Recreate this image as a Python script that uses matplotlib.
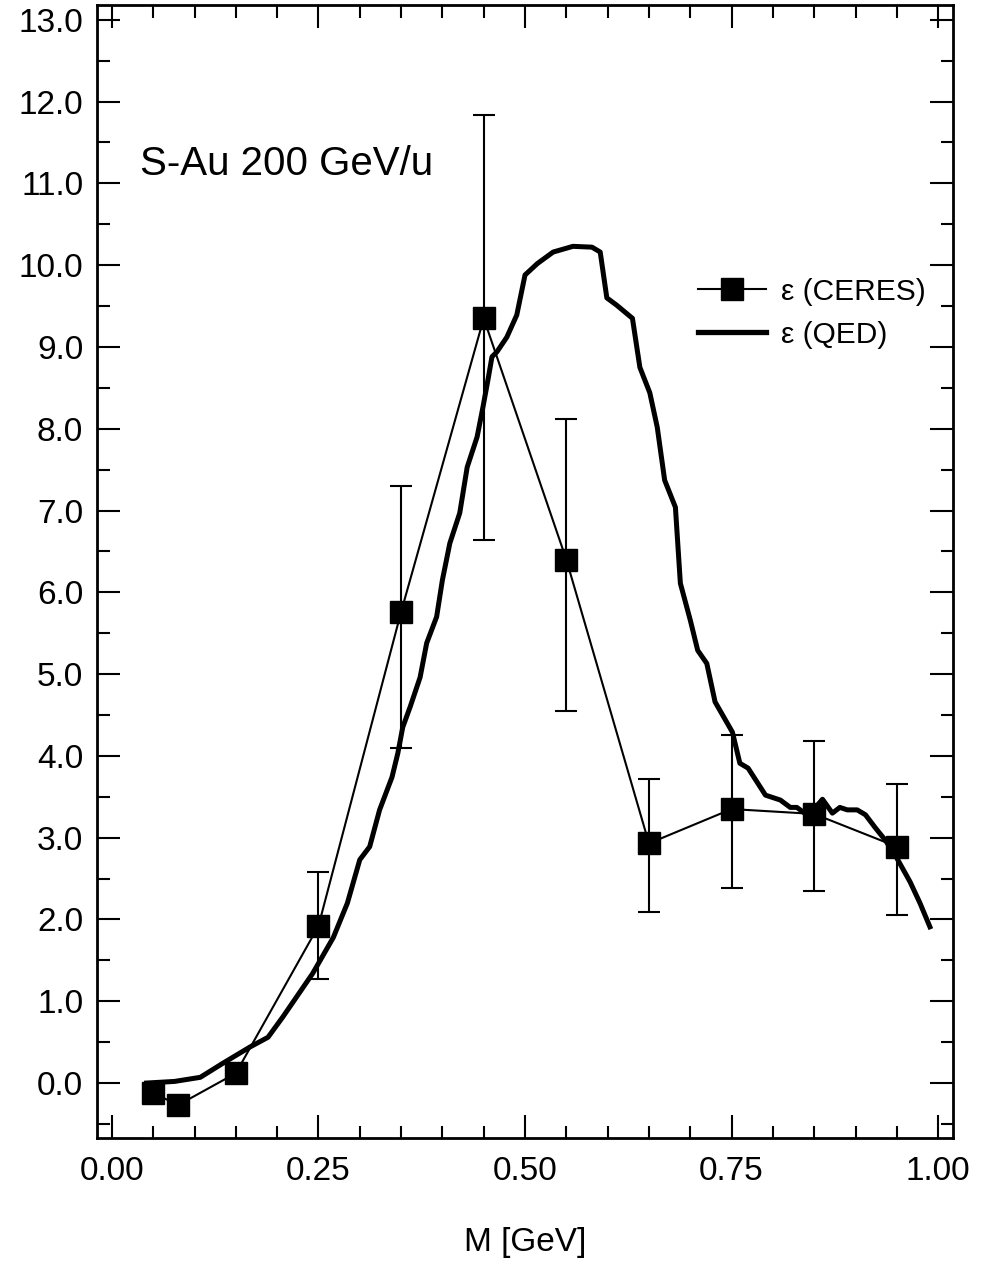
import matplotlib
matplotlib.use("Agg")
import matplotlib.pyplot as plt
from matplotlib.lines import Line2D
from matplotlib.ticker import MultipleLocator, FormatStrFormatter

plt.rcParams['font.family'] = ['Liberation Sans', 'DejaVu Sans']

# CERES data points
m_ceres = [0.05, 0.08, 0.15, 0.25, 0.35, 0.45, 0.55, 0.65, 0.75, 0.85, 0.95]
eps_ceres = [-0.12, -0.27, 0.12, 1.92, 5.76, 9.35, 6.40, 2.93, 3.35, 3.29, 2.89]
err_lo = [0.0, 0.0, 0.0, 0.65, 1.66, 2.71, 1.85, 0.84, 0.97, 0.94, 0.84]
err_hi = [0.0, 0.0, 0.0, 0.66, 1.54, 2.48, 1.72, 0.79, 0.90, 0.89, 0.77]

# QED curve
m_qed = [0.042, 0.076, 0.107, 0.134, 0.167, 0.189, 0.207, 0.243, 0.268, 0.285,
         0.300, 0.312, 0.324, 0.339, 0.346, 0.352, 0.361, 0.373, 0.381, 0.393,
         0.400, 0.409, 0.421, 0.430, 0.442, 0.449, 0.455, 0.460, 0.466, 0.478,
         0.490, 0.500, 0.515, 0.534, 0.558, 0.581, 0.591, 0.599, 0.611, 0.630,
         0.639, 0.651, 0.660, 0.669, 0.682, 0.688, 0.700, 0.709, 0.720, 0.730,
         0.751, 0.760, 0.770, 0.791, 0.809, 0.821, 0.829, 0.841, 0.849, 0.860,
         0.872, 0.881, 0.890, 0.902, 0.912, 0.924, 0.936, 0.950, 0.966, 0.978,
         0.990]
eps_qed = [0.00, 0.02, 0.07, 0.24, 0.44, 0.56, 0.81, 1.34, 1.78, 2.20,
           2.73, 2.89, 3.34, 3.74, 4.03, 4.35, 4.60, 4.96, 5.38, 5.70,
           6.15, 6.60, 6.97, 7.53, 7.90, 8.26, 8.59, 8.88, 8.94, 9.12,
           9.39, 9.88, 10.02, 10.16, 10.23, 10.22, 10.16, 9.60, 9.51, 9.35,
           8.75, 8.44, 8.02, 7.37, 7.04, 6.11, 5.66, 5.29, 5.13, 4.66,
           4.29, 3.91, 3.85, 3.52, 3.46, 3.37, 3.37, 3.28, 3.34, 3.47,
           3.30, 3.37, 3.34, 3.34, 3.28, 3.12, 2.97, 2.75, 2.46, 2.20,
           1.91]

fig = plt.figure(figsize=(9.82, 12.66), dpi=100)
ax = fig.add_axes([0.0988, 0.1011, 0.8717, 0.8949])

ax.plot(m_qed, eps_qed, color='black', lw=3.6, zorder=2)
ax.errorbar(m_ceres, eps_ceres, yerr=[err_lo, err_hi], color='black', lw=1.5,
            elinewidth=1.5, capsize=8, capthick=1.5, marker='s', ms=15.5,
            zorder=3)

ax.set_xlim(-0.018, 1.018)
ax.set_ylim(-0.672, 13.18)
ax.xaxis.set_major_locator(MultipleLocator(0.25))
ax.xaxis.set_minor_locator(MultipleLocator(0.05))
ax.yaxis.set_major_locator(MultipleLocator(1.0))
ax.yaxis.set_minor_locator(MultipleLocator(0.5))
ax.xaxis.set_major_formatter(FormatStrFormatter('%.2f'))
ax.yaxis.set_major_formatter(FormatStrFormatter('%.1f'))

ax.tick_params(which='both', direction='in', top=True, right=True, width=1.5)
ax.tick_params(which='major', length=16.5, labelsize=24)
ax.tick_params(which='minor', length=9)
ax.tick_params(axis='x', which='major', pad=13)
ax.tick_params(axis='y', which='major', pad=10)
for s in ax.spines.values():
    s.set_linewidth(2)

ax.set_xlabel('M [GeV]', fontsize=24, va='center')
ax.xaxis.set_label_coords(0.5, -0.092)

ax.text(0.050, 0.850, 'S-Au 200 GeV/u', transform=ax.transAxes,
        fontsize=29, ha='left', va='baseline')

h_ceres = Line2D([], [], color='black', lw=1.5, marker='s', ms=15.5)
h_qed = Line2D([], [], color='black', lw=3.8)
ax.legend([h_ceres, h_qed], ['ε (CERES)', 'ε (QED)'], loc='upper right',
          bbox_to_anchor=(1.0, 0.783), frameon=False, fontsize=21.5,
          handlelength=2.3, handletextpad=0.5, labelspacing=0.5)

fig.savefig('out.png', dpi=100)
